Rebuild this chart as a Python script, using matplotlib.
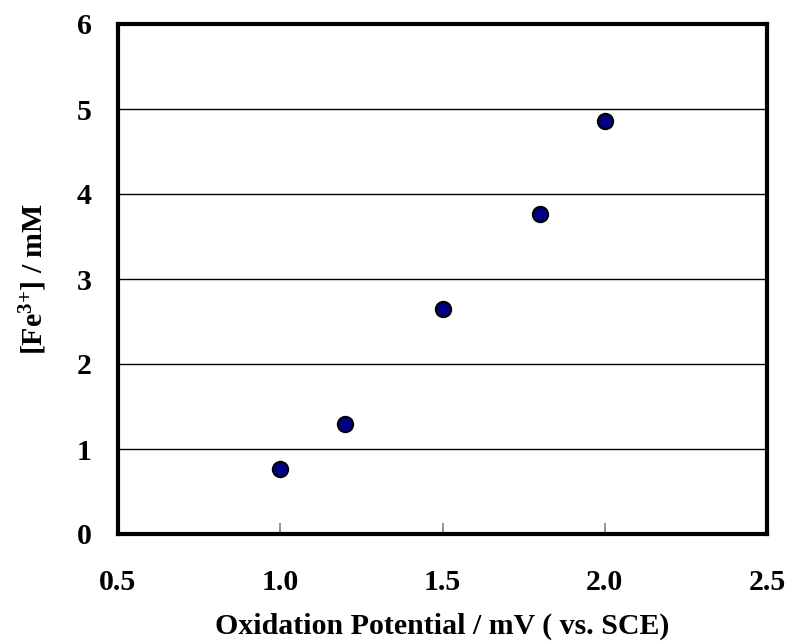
import matplotlib
matplotlib.use("Agg")
import matplotlib.pyplot as plt

potential = [1.0, 1.2, 1.5, 1.8, 2.0]
fe3 = [0.77, 1.29, 2.65, 3.76, 4.86]
x_ticks = [0.5, 1.0, 1.5, 2.0, 2.5]
x_tick_labels = ["0.5", "1.0", "1.5", "2.0", "2.5"]
y_ticks = [0, 1, 2, 3, 4, 5, 6]

plt.rcParams['font.family'] = ['Liberation Serif', 'DejaVu Serif']
plt.rcParams['font.weight'] = 'bold'
plt.rcParams['mathtext.fontset'] = 'custom'
plt.rcParams['mathtext.rm'] = 'Liberation Serif:bold'
plt.rcParams['mathtext.it'] = 'Liberation Serif:bold'
plt.rcParams['mathtext.bf'] = 'Liberation Serif:bold'
plt.rcParams['mathtext.default'] = 'regular'

fig = plt.figure(figsize=(7.92, 6.44), dpi=100)
ax = fig.add_axes([118/792, 1 - 534/644, (767-118)/792, (534-24)/644])

ax.scatter(potential, fe3, s=11**2, c='#000080', edgecolors='black', linewidths=1.5, zorder=3, clip_on=False)

ax.set_xlim(0.5, 2.5)
ax.set_ylim(0, 6)
ax.set_xticks(x_ticks)
ax.set_xticklabels(x_tick_labels)
ax.set_yticks(y_ticks)
ax.yaxis.grid(True, color='black', linewidth=1.0)
ax.set_axisbelow(True)

ax.tick_params(axis='x', direction='in', length=8, width=1.2, color='#808080', pad=25, labelsize=21.5)
ax.tick_params(axis='y', length=0, pad=19, labelsize=21.5)
for lab in ax.get_xticklabels() + ax.get_yticklabels():
    lab.set_fontweight('bold')

for s in ax.spines.values():
    s.set_linewidth(3)
    s.set_color('black')

ax.set_xlabel('Oxidation Potential / mV ( vs. SCE)', fontsize=21.5, fontweight='bold', labelpad=12)
ax.set_ylabel('[Fe$^{3{+}}$] / mM', fontsize=21.5, fontweight='bold', labelpad=20)

fig.savefig('out.png', dpi=100)
